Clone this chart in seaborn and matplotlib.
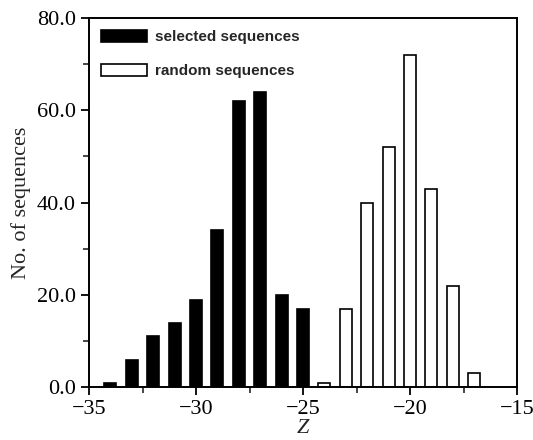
"""Z-score histogram: selected vs random sequences."""

import matplotlib
matplotlib.use('Agg')
import matplotlib.pyplot as plt
from matplotlib.ticker import MultipleLocator, FuncFormatter
import seaborn as sns
import pandas as pd

# data
selected_z = [-34, -33, -32, -31, -30, -29, -28, -27, -26, -25]
selected_n = [1, 6, 11, 14, 19, 34, 62, 64, 20, 17]
random_z = [-24, -23, -22, -21, -20, -19, -18, -17]
random_n = [1, 17, 40, 52, 72, 43, 22, 3]
labels = ["selected sequences", "random sequences"]

df = pd.concat([
    pd.DataFrame({"z": selected_z, "n": selected_n, "group": labels[0]}),
    pd.DataFrame({"z": random_z, "n": random_n, "group": labels[1]}),
], ignore_index=True)

sns.set_style("ticks")
serif = "Liberation Serif"
sans = "Liberation Sans"

fig = plt.figure(figsize=(5.33, 4.4), dpi=100)
ax = fig.add_axes([0.167, 0.12, 0.803, 0.839])

sns.barplot(
    data=df, x="z", y="n", hue="group",
    palette={labels[0]: "black", labels[1]: "white"},
    edgecolor="black", linewidth=1.2,
    native_scale=True, dodge=False, width=0.56, ax=ax,
)

ax.set_xlim(-35, -15)
ax.set_ylim(0, 80)
ax.xaxis.set_major_locator(MultipleLocator(5))
ax.xaxis.set_minor_locator(MultipleLocator(2.5))
ax.yaxis.set_major_locator(MultipleLocator(20))
ax.yaxis.set_minor_locator(MultipleLocator(10))
ax.yaxis.set_major_formatter(FuncFormatter(lambda v, p: f"{v:.1f}"))
ax.xaxis.set_major_formatter(
    FuncFormatter(lambda v, p: f"{int(v)}".replace("-", "\u2212")))

ax.tick_params(which="major", direction="out", length=6, width=1.3,
               labelsize=16, colors="black")
ax.tick_params(which="minor", direction="out", length=4, width=1.2)
for lab in ax.get_xticklabels() + ax.get_yticklabels():
    lab.set_fontfamily(serif)

for side in ["top", "right", "left", "bottom"]:
    ax.spines[side].set_visible(True)
    ax.spines[side].set_linewidth(1.4)
    ax.spines[side].set_color("black")

ax.set_xlabel("Z", fontfamily=serif, fontstyle="italic", fontsize=16, labelpad=0)
ax.set_ylabel("No. of sequences", fontfamily=serif, fontsize=16, labelpad=4)

ax.legend(
    loc="upper left", frameon=False, bbox_to_anchor=(0.0, 1.0),
    borderaxespad=0.4, handlelength=3.0, handleheight=0.8,
    handletextpad=0.5, labelspacing=1.3,
    prop={"family": sans, "size": 11, "weight": "bold"},
)

plt.savefig("out.png", dpi=100)
plt.close()
